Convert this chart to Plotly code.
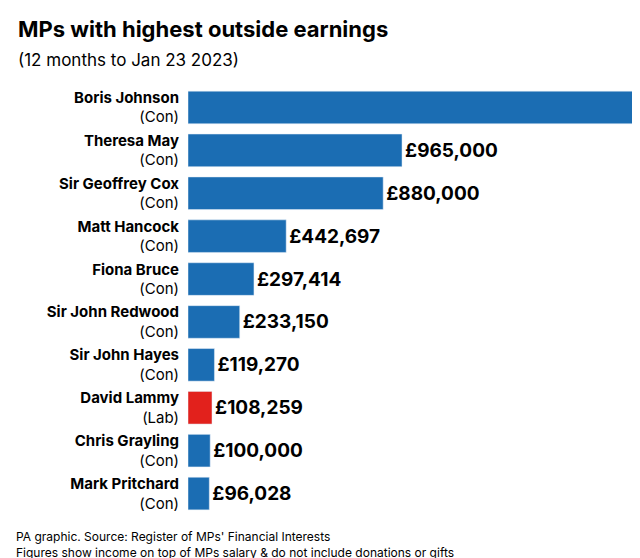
import plotly.graph_objects as go

names = ["Boris Johnson", "Theresa May", "Sir Geoffrey Cox", "Matt Hancock", "Fiona Bruce",
         "Sir John Redwood", "Sir John Hayes", "David Lammy", "Chris Grayling", "Mark Pritchard"]
parties = ["Con", "Con", "Con", "Con", "Con", "Con", "Con", "Lab", "Con", "Con"]
earnings = [2300000, 965000, 880000, 442697, 297414, 233150, 119270, 108259, 100000, 96028]
value_labels = ["£2.3m", "£965,000", "£880,000", "£442,697", "£297,414",
                "£233,150", "£119,270", "£108,259", "£100,000", "£96,028"]

colors = ["#e2211c" if p == "Lab" else "#1b6db3" for p in parties]
ticks = [f"<b>{n}</b><br>({p})" for n, p in zip(names, parties)]
# Boris bar is cut off at the right edge of the chart
xmax = 2020000

# plot area: x 180..628, y 78..507 px
def px(x):
    return (x - 180) / 448

def py(y):
    return (507 - y) / 429

fig = go.Figure(go.Bar(
    x=earnings, y=ticks, orientation="h", marker_color=colors, width=0.76,
    text=[f"<b>{t}</b>" for t in value_labels],
    textposition=["inside"] + ["outside"] * 9,
    insidetextanchor="end",
    textfont=dict(size=19, color=["white"] + ["black"] * 9, family="Inter"),
    cliponaxis=False, hoverinfo="skip",
))
fig.update_layout(
    width=640, height=558, plot_bgcolor="white", paper_bgcolor="white",
    margin=dict(l=180, r=12, t=78, b=51, autoexpand=False),
    font=dict(family="Inter", color="black"),
    showlegend=False, bargap=0.24,
    annotations=[
        dict(text="<b>MPs with highest outside earnings</b>", x=px(8), y=py(6), xref="paper", yref="paper",
             xanchor="left", yanchor="top", showarrow=False, font=dict(size=22)),
        dict(text="(12 months to Jan 23 2023)", x=px(8), y=py(40), xref="paper", yref="paper",
             xanchor="left", yanchor="top", showarrow=False, font=dict(size=17)),
        dict(text="PA graphic. Source: Register of MPs' Financial Interests<br>Figures show income on top of MPs salary & do not include donations or gifts",
             x=px(6), y=py(554), xref="paper", yref="paper", xanchor="left", yanchor="bottom",
             align="left", showarrow=False, font=dict(size=12)),
    ],
)
fig.update_xaxes(range=[0, xmax], visible=False, automargin=False)
fig.update_yaxes(autorange="reversed", tickfont=dict(size=15), ticks="", ticklabelstandoff=8, automargin=False)
fig.write_html("out.html")
